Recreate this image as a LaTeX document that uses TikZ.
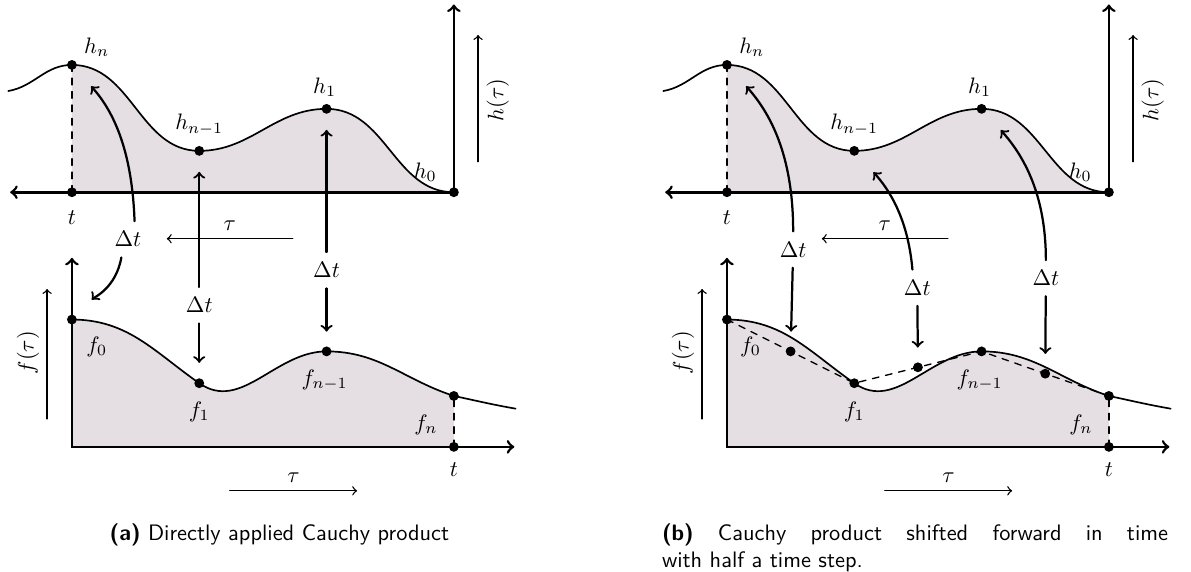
\documentclass[tikz,border=0pt]{standalone}
\usepackage{amsmath,amssymb}
\usepackage{tikz}
\definecolor{areafill}{RGB}{229,223,228}

\begin{document}
\begin{tikzpicture}[line cap=round,
  curve/.style={line width=0.75pt},
  axis/.style={very thick,<->},
  dtarrow/.style={line width=1pt,->},
  dtlabel/.style={inner sep=4.5pt},
  dirarrow/.style={semithick,->},
  ticks/.style={dashed,semithick}]

  \useasboundingbox (-1.13,-1.95) rectangle (17.58,7.02);

  %--- (a) prodotto applicato direttamente
  \begin{scope}[name prefix=a-]
  \coordinate (t1) at (0,4);
  \coordinate (hn) at (0,6);
  \coordinate (hm) at (2,4.65);
  \coordinate (h1) at (4,5.31);
  \coordinate (h0) at (6,4);
  \coordinate (o) at (0,0);
  \coordinate (f0) at (0,2);
  \coordinate (f1) at (2,1);
  \coordinate (fm) at (4,1.5);
  \coordinate (fn) at (6,0.8);
  \coordinate (t2) at (6,0);

  % aree sotto le curve
  \fill[areafill] (t1) -- (hn) to[out=0,in=180] (hm) to[out=0,in=180] (h1)
    to[out=0,in=180] (h0) -- cycle;
  \fill[areafill] (o) -- (f0) to[out=0,in=145] (f1) to[out=-35,in=180] (fm)
    to[out=0,in=162] (fn) -- (t2) -- cycle;

  %--- assi
  \draw[axis] (-0.97,4) -- (h0) -- (6,6.95);
  \draw[axis] (0,2.97) -- (o) -- (6.95,0);

  %--- curve h(tau) e f(tau)
  \draw[curve] (-1,5.59) to[out=10,in=180] (hn) to[out=0,in=180] (hm)
    to[out=0,in=180] (h1) to[out=0,in=180] (h0);
  \draw[curve] (f0) to[out=0,in=145] (f1) to[out=-35,in=180] (fm)
    to[out=0,in=162] (fn) to[out=-12,in=170] (6.97,0.6);
  \draw[ticks] (t1) -- (hn);
  \draw[ticks] (t2) -- (fn);
  \fill (t1) circle (2.2pt) (hn) circle (2.2pt) (hm) circle (2.2pt)
    (h1) circle (2.2pt) (h0) circle (2.2pt) (f0) circle (2.2pt)
    (f1) circle (2.2pt) (fm) circle (2.2pt) (fn) circle (2.2pt) (t2) circle (2.2pt);

  % etichette
  \node (lhn) at (0.39,6.28) {$h_n$};
  \node (lhm) at (2,5.06) {$h_{n-1}$};
  \node (lh1) at (3.97,5.65) {$h_1$};
  \node (lh0) at (5.55,4.31) {$h_0$};
  \node (lt1) at (0,3.6) {$t$};
  \node (lf0) at (0.39,1.57) {$f_0$};
  \node (lf1) at (2,0.55) {$f_1$};
  \node (lfm) at (3.97,1.05) {$f_{n-1}$};
  \node (lfn) at (5.56,0.35) {$f_n$};
  \node (lt2) at (6,-0.36) {$t$};
  \node[rotate=90] (lh) at (6.69,5.45) {$h(\tau)$};
  \node[rotate=90] (lf) at (-0.69,1.48) {$f(\tau)$};

  %--- direzioni
  \draw[dirarrow] (6.38,4.48) -- (6.38,6.47);
  \draw[dirarrow] (-0.39,0.44) -- (-0.39,2.48);
  \draw[dirarrow] (3.47,3.27) -- (1.49,3.27) node[midway,above] (ltu) {$\tau$};
  \draw[dirarrow] (2.48,-0.69) -- (4.48,-0.69) node[midway,above] (ltd) {$\tau$};

  %--- passi Delta t
  \node[dtlabel] (dt0) at (0.88,3.26) {$\Delta t$};
  \node[dtlabel] (dt1) at (2,2.225) {$\Delta t$};
  \node[dtlabel] (dt2) at (4,2.775) {$\Delta t$};
  \draw[dtarrow,shorten >=0.45cm] (dt0.70) to[out=92,in=-48] (hn);
  \draw[dtarrow,shorten >=0.44cm] (dt0.250) to[out=-100,in=45] (f0);
  \draw[dtarrow,shorten >=0.33cm] (dt1) -- (hm);
  \draw[dtarrow,shorten >=0.32cm] (dt1) -- (f1);
  \draw[dtarrow,shorten >=0.33cm] (dt2) -- (h1);
  \draw[dtarrow,shorten >=0.31cm] (dt2) -- (fm);
  \end{scope}

  %--- (b) spostato di mezzo passo
  \begin{scope}[xshift=10.29cm,name prefix=b-]
  \coordinate (t1) at (0,4);
  \coordinate (hn) at (0,6);
  \coordinate (hm) at (2,4.65);
  \coordinate (h1) at (4,5.31);
  \coordinate (h0) at (6,4);
  \coordinate (o) at (0,0);
  \coordinate (f0) at (0,2);
  \coordinate (f1) at (2,1);
  \coordinate (fm) at (4,1.5);
  \coordinate (fn) at (6,0.8);
  \coordinate (t2) at (6,0);
  \coordinate (m1) at (1,1.5);
  \coordinate (m2) at (3,1.25);
  \coordinate (m3) at (5,1.15);

  % aree sotto le curve
  \fill[areafill] (t1) -- (hn) to[out=0,in=180] (hm) to[out=0,in=180] (h1)
    to[out=0,in=180] (h0) -- cycle;
  \fill[areafill] (o) -- (f0) to[out=0,in=145] (f1) to[out=-35,in=180] (fm)
    to[out=0,in=162] (fn) -- (t2) -- cycle;

  %--- assi
  \draw[axis] (-0.97,4) -- (h0) -- (6,6.95);
  \draw[axis] (0,2.97) -- (o) -- (6.95,0);

  %--- curve h(tau) e f(tau)
  \draw[curve] (-1,5.59) to[out=10,in=180] (hn) to[out=0,in=180] (hm)
    to[out=0,in=180] (h1) to[out=0,in=180] (h0);
  \draw[curve] (f0) to[out=0,in=145] (f1) to[out=-35,in=180] (fm)
    to[out=0,in=162] (fn) to[out=-12,in=170] (6.97,0.6);
  \draw[ticks] (t1) -- (hn);
  \draw[ticks] (t2) -- (fn);
  \draw[ticks] (f0) -- (f1) -- (fm) -- (fn);
  \fill (t1) circle (2.2pt) (hn) circle (2.2pt) (hm) circle (2.2pt)
    (h1) circle (2.2pt) (h0) circle (2.2pt) (f0) circle (2.2pt)
    (f1) circle (2.2pt) (fm) circle (2.2pt) (fn) circle (2.2pt) (t2) circle (2.2pt)
    (m1) circle (2.2pt) (m2) circle (2.2pt) (m3) circle (2.2pt);

  % etichette
  \node (lhn) at (0.39,6.28) {$h_n$};
  \node (lhm) at (2,5.06) {$h_{n-1}$};
  \node (lh1) at (3.97,5.65) {$h_1$};
  \node (lh0) at (5.55,4.31) {$h_0$};
  \node (lt1) at (0,3.6) {$t$};
  \node (lf0) at (0.37,1.57) {$f_0$};
  \node (lf1) at (2,0.55) {$f_1$};
  \node (lfm) at (3.97,1.05) {$f_{n-1}$};
  \node (lfn) at (5.56,0.35) {$f_n$};
  \node (lt2) at (6,-0.36) {$t$};
  \node[rotate=90] (lh) at (6.69,5.45) {$h(\tau)$};
  \node[rotate=90] (lf) at (-0.69,1.48) {$f(\tau)$};

  %--- direzioni
  \draw[dirarrow] (6.38,4.48) -- (6.38,6.47);
  \draw[dirarrow] (-0.39,0.44) -- (-0.39,2.48);
  \draw[dirarrow] (3.47,3.27) -- (1.49,3.27) node[midway,above] (ltu) {$\tau$};
  \draw[dirarrow] (2.48,-0.69) -- (4.48,-0.69) node[midway,above] (ltd) {$\tau$};

  %--- passi Delta t, a meta' passo
  \node[dtlabel] (dt0) at (1.04,3.1) {$\Delta t$};
  \node[dtlabel] (dt1) at (2.99,2.5) {$\Delta t$};
  \node[dtlabel] (dt2) at (5.01,2.65) {$\Delta t$};
  \draw[dtarrow,shorten >=0.45cm] (dt0.north) to[out=90,in=-48] (hn);
  \draw[dtarrow,shorten >=0.31cm] (dt0) -- (m1);
  \draw[dtarrow,shorten >=0.45cm] (dt1.105) to[out=95,in=-48] (hm);
  \draw[dtarrow,shorten >=0.31cm] (dt1) -- (m2);
  \draw[dtarrow,shorten >=0.45cm] (dt2.north) to[out=90,in=-48] (h1);
  \draw[dtarrow,shorten >=0.31cm] (dt2) -- (m3);
  \end{scope}

  %--- didascalie
  \node[font=\sffamily] (capa) at (3.26,-1.38)
    {\textbf{(a)} Directly applied Cauchy product};
  \node[font=\sffamily,text width=7.95cm,align=justify,inner sep=0pt] (capb)
    at (13.245,-1.58)
    {\textbf{(b)} Cauchy product shifted forward in time\linebreak with half a time step.};
\end{tikzpicture}
\end{document}
